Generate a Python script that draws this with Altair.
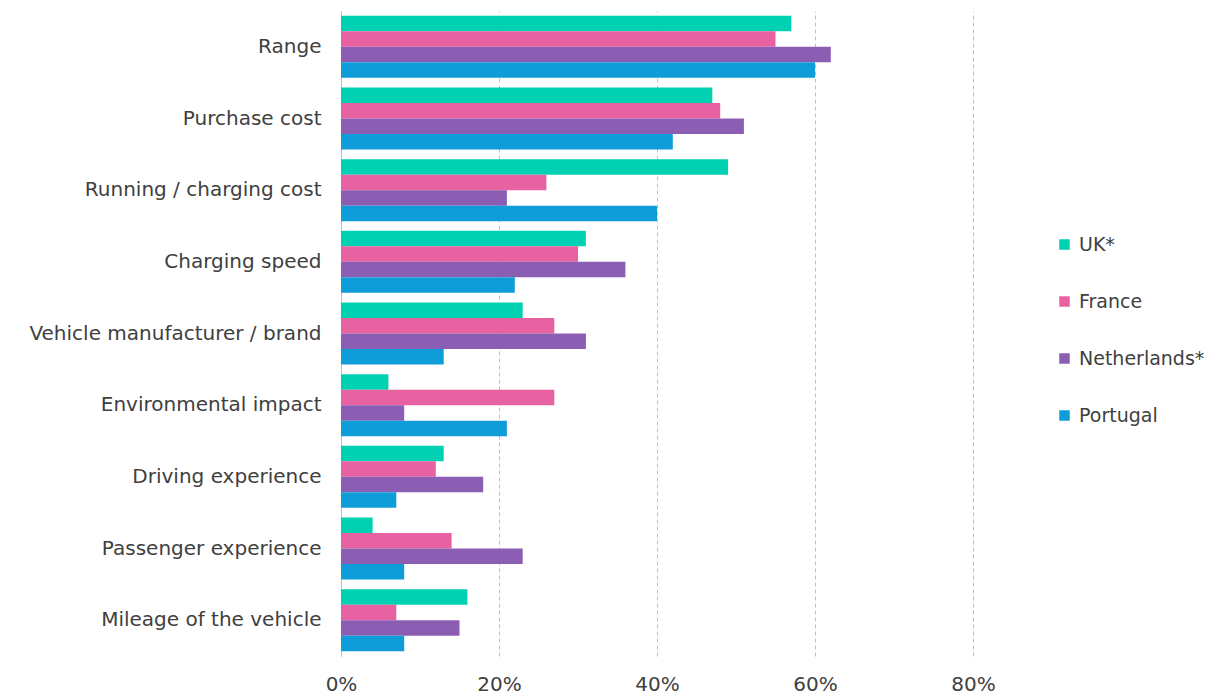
import altair as alt
import pandas as pd

categories = ["Range", "Purchase cost", "Running / charging cost", "Charging speed",
              "Vehicle manufacturer / brand", "Environmental impact", "Driving experience",
              "Passenger experience", "Mileage of the vehicle"]
series = ["UK*", "France", "Netherlands*", "Portugal"]
uk = [57, 47, 49, 31, 23, 6, 13, 4, 16]
france = [55, 48, 26, 30, 27, 27, 12, 14, 7]
netherlands = [62, 51, 21, 36, 31, 8, 18, 23, 15]
portugal = [60, 42, 40, 22, 13, 21, 7, 8, 8]
colors = ["#00D1B2", "#E862A2", "#8B5EB4", "#0E9DD9"]
x_ticks = [0, 0.2, 0.4, 0.6, 0.8]

rows = []
for s, vals in zip(series, [uk, france, netherlands, portugal]):
    for c, v in zip(categories, vals):
        rows.append({"category": c, "series": s, "value": v / 100})
df = pd.DataFrame(rows)

FONT = "DejaVu Sans"
TXT = "#404040"
FS = 20

chart = alt.Chart(df).mark_bar().encode(
    y=alt.Y("category:N", sort=categories,
            scale=alt.Scale(paddingInner=0.134, paddingOuter=0.067),
            axis=alt.Axis(title=None, ticks=False, domainColor="#bfbfbf", domainWidth=1,
                          labelFontSize=FS, labelColor=TXT, labelFont=FONT,
                          labelPadding=20, labelLimit=400)),
    yOffset=alt.YOffset("series:N", sort=series,
                        scale=alt.Scale(paddingInner=0, paddingOuter=0)),
    x=alt.X("value:Q", scale=alt.Scale(domain=[0, 0.8], nice=False),
            axis=alt.Axis(title=None, format=".0%", values=x_ticks, grid=True,
                          gridDash=[4, 3], gridColor="#c0c0c0", domain=False, ticks=False,
                          labelFlush=False, labelPadding=18, labelFontSize=FS,
                          labelColor=TXT, labelFont=FONT)),
    color=alt.Color("series:N", sort=series,
                    scale=alt.Scale(domain=series, range=colors),
                    legend=alt.Legend(title=None, orient="none", legendX=714, legendY=224,
                                      symbolType="square", symbolSize=110, symbolStrokeWidth=0,
                                      labelFontSize=19, labelFont=FONT, labelColor=TXT,
                                      rowPadding=37, labelOffset=5)),
).properties(
    width=632, height=645,
    background="white",
    autosize=alt.AutoSizeParams(type="none"),
    padding={"left": 341, "top": 11, "right": 259, "bottom": 39},
).configure_view(strokeWidth=0, stroke="transparent")

chart.save("out.html", embed_options={"renderer": "svg", "actions": False})
